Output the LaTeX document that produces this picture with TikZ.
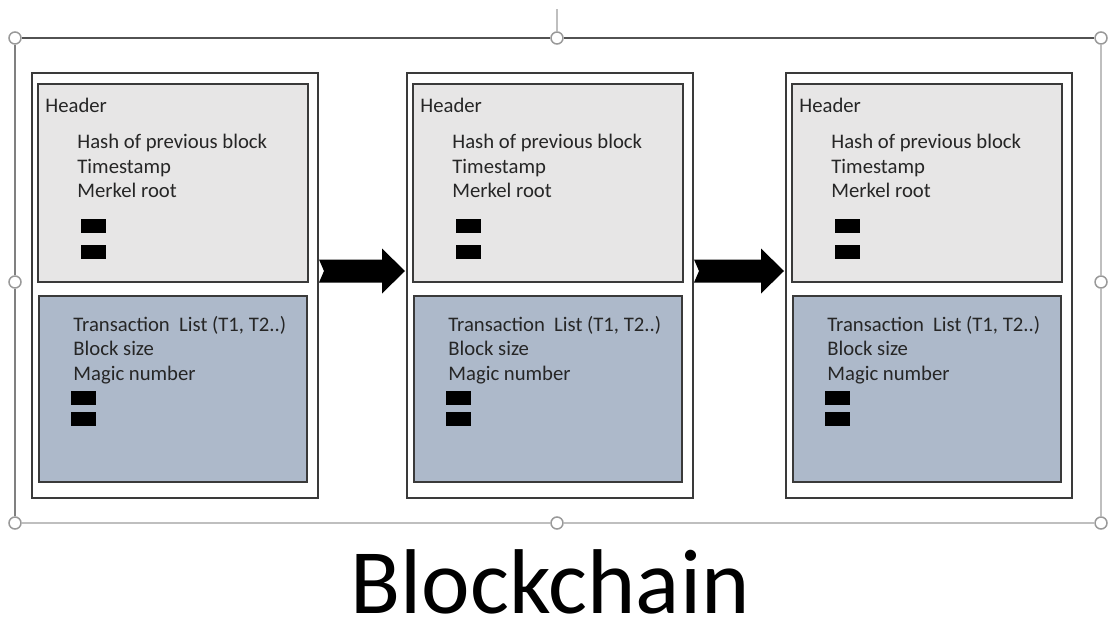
\documentclass[tikz,border=0pt]{standalone}
\usepackage{fontspec}
\setmainfont{Carlito}
\usepackage{tikz}
\usetikzlibrary{calc,positioning}
\definecolor{hdgray}{HTML}{E7E6E6}
\definecolor{txblue}{HTML}{ADB9CA}
\definecolor{edge}{HTML}{3A3A3A}
\tikzset{
  blk/.style={rectangle,draw=edge,fill=white,minimum width=143pt,minimum height=212.5pt,inner sep=0pt,line width=1pt},
  hdr/.style={rectangle,draw=edge,fill=hdgray,minimum width=135pt,minimum height=99pt,inner sep=0pt,line width=1pt},
  txb/.style={rectangle,draw=edge,fill=txblue,minimum width=134pt,minimum height=93pt,inner sep=0pt,line width=1pt},
  bar/.style={rectangle,fill=black,minimum width=12.5pt,minimum height=7pt,inner sep=0pt},
  lb/.style={font=\fontsize{10.35}{12.25}\selectfont,text=black!85,inner sep=0pt,anchor=base west},
  ttl/.style={font=\fontsize{46}{50}\selectfont,text=black,inner sep=0pt,anchor=base},
  arw/.style={fill=black},
  % selection frame round the group, with its grab handles
  hdl/.style={circle,draw=black!40,fill=white,minimum size=6pt,inner sep=0pt,line width=.75pt},
  frmd/.style={draw=black!68,line width=1.2pt},
  frmm/.style={draw=black!50,line width=.9pt},
  frml/.style={draw=black!25,line width=.9pt},
}
\begin{document}
\begin{tikzpicture}[x=0.5pt,y=-0.5pt]
\useasboundingbox (0,0) rectangle (1113,621);
% --- selection frame
\node[hdl] (hNW) at (15,38) {};
\node[hdl] (hN)  at (557,38) {};
\node[hdl] (hNE) at (1101,38) {};
\node[hdl] (hW)  at (15,282) {};
\node[hdl] (hE)  at (1101,282) {};
\node[hdl] (hSW) at (15,523) {};
\node[hdl] (hS)  at (557,523) {};
\node[hdl] (hSE) at (1101,523) {};
\coordinate (rot) at (557,9);
\draw[frmd] (hNW)--(hN) (hN)--(hNE);
\draw[frmm] (hNW)--(hW) (hW)--(hSW);
\draw[frml] (hNE)--(hE) (hE)--(hSE) (hSW)--(hS) (hS)--(hSE) (hN)--(rot);
% --- the three blocks
\foreach \i/\cx in {1/175,2/550,3/929}{
  \node[blk] (blk\i) at (\cx,285) {};
  \node[hdr,anchor=north west] (hd\i) at ($(blk\i.north west)+(6,11)$) {};
  \node[txb,anchor=north west] (tx\i) at ($(blk\i.north west)+(7,223.5)$) {};
  \node[lb] (hl\i) at ($(hd\i.north west)+(8,30)$) {Header};
  \foreach \t [count=\k] in {Hash of previous block,Timestamp,Merkel root}
    \node[lb] (hs\i-\k) at ($(hd\i.north west)+(40,41.5+24.5*\k)$) {\t};
  \foreach \t [count=\k] in {{Transaction\ \ List (T1, T2..)},Block size,Magic number}
    \node[lb] (ts\i-\k) at ($(tx\i.north west)+(35,11.5+24.5*\k)$) {\t};
  \node[bar,anchor=north west] (hb\i-1) at ($(hd\i.north west)+(44,136)$) {};
  \node[bar,anchor=north west] (hb\i-2) at ($(hd\i.north west)+(44,162)$) {};
  \node[bar,anchor=north west] (tb\i-1) at ($(tx\i.north west)+(33,96)$) {};
  \node[bar,anchor=north west] (tb\i-2) at ($(tx\i.north west)+(33,117)$) {};
}
% --- block arrows, notched at the tail
\foreach \a/\b in {blk1/blk2,blk2/blk3}{
  \coordinate (t) at ($(\a.east)+(0,-14)$);
  \coordinate (h) at ($(\b.west)+(-1,-14)$);
  \fill[arw] ($(t)+(0,-11.5)$) -- ($(h)+(-23,-11.5)$) -- ($(h)+(-23,-22.5)$) -- (h)
    -- ($(h)+(-23,22.5)$) -- ($(h)+(-23,11.5)$) -- ($(t)+(0,11.5)$) -- ($(t)+(5,0)$) -- cycle;
}
\node[ttl] (title) at (550,613) {Blockchain};
\end{tikzpicture}
\end{document}
